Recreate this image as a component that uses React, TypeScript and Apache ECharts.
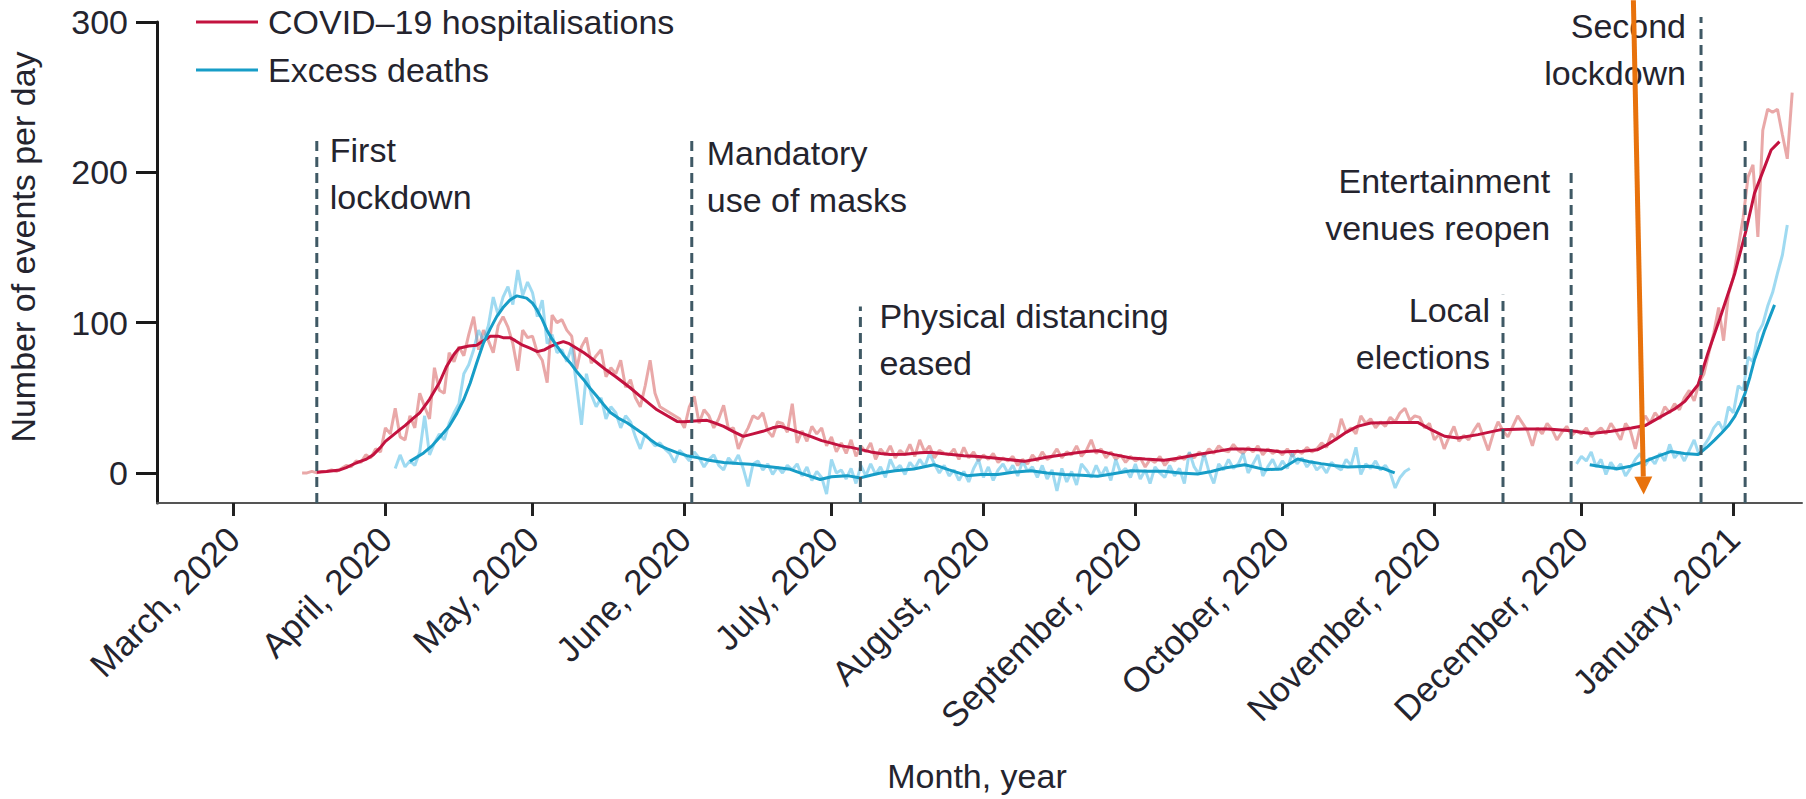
import React, { useEffect, useRef } from "react";
import * as echarts from "echarts";

// ---------- axes ----------
const monthLabels = [
  "March, 2020", "April, 2020", "May, 2020", "June, 2020", "July, 2020", "August, 2020",
  "September, 2020", "October, 2020", "November, 2020", "December, 2020", "January, 2021",
];
// days since 1 March 2020
const monthTickDays = [0, 31, 61, 92, 122, 153, 184, 214, 245, 275, 306];
const yTicks = [0, 100, 200, 300];

// ---------- raw daily series (light lines) ----------
const hospRawStart = 14;
const hospRaw = [
  0, 0, 1, 0, 1, 1, 2, 1, 3, 5,
  4, 8, 7, 12, 10, 16, 14, 30, 26, 43,
  24, 22, 38, 30, 53, 44, 36, 70, 55, 53,
  80, 74, 84, 78, 92, 104, 82, 95, 88, 80,
  98, 104, 97, 86, 68, 95, 90, 91, 80, 75,
  60, 105, 100, 102, 95, 91, 69, 84, 90, 73,
  78, 82, 64, 70, 66, 75, 57, 62, 50, 44,
  58, 75, 53, 44, 42, 40, 38, 36, 30, 44,
  51, 33, 42, 38, 30, 36, 45, 29, 30, 16,
  24, 30, 38, 36, 40, 28, 24, 34, 33, 27,
  46, 20, 28, 21, 31, 26, 30, 18, 24, 14,
  20, 13, 22, 11, 18, 14, 20, 9, 16, 12,
  18, 10, 15, 12, 19, 11, 22, 14, 18, 10,
  15, 13, 12, 16, 9, 17, 10, 14, 8, 12,
  9, 13, 7, 10, 8, 11, 5, 9, 6, 12,
  8, 14, 9, 11, 16, 10, 14, 12, 18, 11,
  15, 22, 13, 16, 10, 14, 9, 12, 7, 11,
  8, 10, 4, 9, 7, 11, 5, 9, 8, 11,
  9, 13, 10, 14, 11, 16, 13, 18, 15, 14,
  19, 15, 13, 17, 14, 18, 12, 16, 13, 15,
  12, 16, 11, 15, 13, 17, 14, 16, 20, 17,
  26, 22, 36, 27, 30, 26, 38, 33, 36, 30,
  34, 31, 37, 34, 40, 43, 35, 38, 37, 30,
  33, 22, 26, 16, 24, 31, 21, 25, 22, 28,
  33, 24, 15, 26, 34, 28, 24, 31, 38, 33,
  28, 18, 30, 26, 33, 29, 22, 27, 31, 25,
  28, 26, 30, 24, 27, 30, 26, 33, 28, 22,
  33, 28, 16, 31, 38, 33, 40, 36, 44, 40,
  46, 42, 50, 55, 48, 60, 66, 80, 93, 110,
  88, 119, 130, 150, 170, 197, 205, 157, 228, 242,
  240, 242, 225, 209, 253,
];

const deathsRawStartA = 33;
const deathsRawA = [
  3, 12, 4, 8, 5, 14, 38, 12, 20, 26,
  22, 33, 40, 46, 66, 72, 82, 95, 88, 98,
  117, 105, 117, 124, 112, 135, 118, 127, 120, 104,
  115, 86, 92, 80, 82, 74, 84, 58, 32, 66,
  52, 44, 50, 36, 44, 40, 30, 38, 34, 24,
  16, 26, 22, 18, 20, 16, 13, 7, 15, 12,
  8, 14, 10, 4, 9, 12, 5, 2, 10, 6,
  12, 3, -9, 6, 8, 2, 6, -1, 4, 0,
  5, 2, 6, -2, 4, -5, 1, -3, -14, 9,
  0, 2, -4, 3, -7, 5, -2, 6, -1, 4,
  -3, 9, 2, 5, -1, 7, 3, 9, 4, 13,
  6, 0, 5, -2, 2, -5, 1, -6, 3, 9,
  -3, 4, -5, 2, 6, 0, 5, -2, 8, 1,
  4, -3, 5, -4, 2, -12, 3, -6, 1, -8,
  6, 2, -3, 5, -2, 4, -5, 9, 0, 3,
  -3, 6, -4, 2, -7, 4, 0, -3, 5, -2,
  3, -7, 14, 4, -1, 13, 1, -7, 6, 2,
  9, 3, 6, 13, 0, 6, 12, -2, 4, 9,
  2, 8, 3, 13, 6, 10, 4, 8, 2, 5,
  0, 7, 4, 2, 9, 5, 17, -1, 6, 3,
  8, 2, 5, 0, -10, -3, 1, 3,
];

const deathsRawStartB = 274;
const deathsRawB = [
  6, 11, 8, 14, 4, 9, -1, 7, 2, 6,
  -2, 3, 9, 13, 5, 10, 6, 13, 8, 19,
  10, 14, 8, 15, 22, 12, 18, 23, 30, 34,
  28, 44, 40, 58, 55, 77, 74, 93, 99, 111,
  120, 133, 145, 165,
];

// ---------- smoothed series (dark lines), [day, value] ----------
const hospSmooth: [number, number][] = [
  [17, 0.4], [19, 1], [21.7, 2], [23, 3.5], [25, 6.6], [27, 9], [28.5, 12], [30, 17], [31, 21],
  [34, 29], [35, 31.5], [36.7, 36.5], [38, 40], [40, 49], [42, 60], [43.5, 71], [45, 79], [46, 83],
  [48, 84.5], [49.6, 85], [51, 88], [52.4, 91], [54, 91], [55, 90], [56.4, 90], [57.5, 88], [59, 85],
  [60.5, 83], [62, 80.7], [63.5, 82], [64.6, 84], [66, 86], [67.3, 87.4], [68.5, 86], [70, 83],
  [71.5, 80], [73, 76.4], [74.5, 72.5], [76, 68.6], [78, 64], [79.6, 60], [81, 56.5], [83, 51],
  [84.7, 46.5], [86.4, 42], [88.5, 38], [90.5, 34.3], [92, 34], [94, 34.6], [96.6, 35], [98, 33.5],
  [100, 31], [102, 27.5], [104, 24.3], [106, 26], [108, 27.7], [110, 30], [111.6, 31], [113.6, 29],
  [115.7, 26.6], [118, 24], [120, 21.5], [121.8, 20], [124, 18], [126, 17], [128, 15.5], [130, 14],
  [132, 13], [134, 12.2], [137, 12.5], [140, 13.5], [142.2, 13.8], [145, 12.8], [149, 11.5],
  [152, 11], [155.2, 10], [158, 9], [161.3, 7.7], [163.5, 9], [166.1, 10.6], [169, 12], [171.6, 13.3],
  [174, 14.2], [176.3, 14.8], [178, 13.5], [179.7, 12.2], [183.1, 10], [186, 9.2], [189.9, 8.4],
  [193, 10], [196.7, 12.2], [200, 14], [203.5, 16], [206, 16], [209, 15.5], [211.6, 15], [213.8, 14],
  [215.7, 14.3], [218, 14.5], [221.2, 15.5], [223, 18.5], [225.3, 23.2], [227, 27], [229.3, 31],
  [232, 33.2], [236.9, 33.6], [241.6, 33.6], [244.3, 28.8], [247.1, 24.4], [249.8, 23.2],
  [253.9, 25.5], [258.6, 28.8], [263.4, 29.2], [268.1, 29.2], [272.9, 28.1], [277, 26.2],
  [281.1, 27.7], [285.2, 29.9], [288, 31.5], [291.3, 37.6], [294, 42.5], [296.1, 47.6],
  [298.8, 58.7], [300.8, 79.7], [303.6, 106.3], [306.3, 132.9], [308.6, 161.6], [310.3, 186],
  [312.4, 203.8], [313.7, 214.8], [315.4, 220.4],
];

const deathsSmoothA: [number, number][] = [
  [36, 7.7], [38.8, 13.3], [40.5, 18], [42.2, 24.3], [44, 31], [45.6, 39.8], [47, 49], [48.3, 59.8],
  [49.6, 73], [51, 86.4], [52.4, 96], [53.7, 104], [55, 110], [56.4, 115], [57.8, 117.8],
  [59.8, 116.3], [61, 113], [61.9, 108.6], [63, 102], [63.9, 95.3], [65, 89], [66, 84.3],
  [67.3, 78.5], [68.7, 73.2], [70, 67.5], [71.4, 62.2], [72.7, 56.5], [74.1, 51.2], [75.5, 45.5],
  [76.9, 40.2], [78.5, 36.5], [80.3, 33.4], [82, 29.5], [83.7, 25.7], [85, 22.3], [86.4, 19],
  [88.5, 16], [90.5, 13.5], [92.5, 11.5], [94.6, 10.2], [97, 8.5], [100, 6.9], [103, 6.2],
  [105.5, 5.8], [108.5, 4.5], [111.6, 3.3], [113.6, 2.4], [116, -0.5], [119.7, -4.4], [122, -2.5],
  [125.2, -1.8], [127.9, -3.3], [130, -1.5], [132, 0], [135, 1.5], [138.8, 2.6], [142.9, 5.5],
  [146, 2], [149.7, -1.8], [152.5, -1], [155.9, -1.1], [159, 0.5], [162.7, 1.5], [166, 0],
  [169.5, -1.1], [173, -1.5], [176.3, -2.2], [179.5, -0.5], [183.1, 1.5], [186.5, 1.2],
  [189.9, 1.1], [193, 0], [196.7, -0.7], [199.5, 1], [202.2, 3.3], [206.3, 5.5], [210.4, 2.2],
  [213.8, 2.6], [217.1, 9.3], [219.5, 7.5], [221.9, 6.2], [224.5, 5], [227.3, 4], [232, 4.4],
  [234.5, 3], [236.9, 0],
];

const deathsSmoothB: [number, number][] = [
  [276.7, 5.5], [279.5, 4], [282.4, 2.8], [285, 4.5], [287.9, 7.7], [290.5, 11], [293.3, 14.3],
  [296, 13], [298.8, 12.2], [300.8, 17.7], [302.2, 22], [303.6, 26.6], [305, 31.5], [306.3, 37.6],
  [307.4, 45], [308.4, 53.1], [309.4, 64], [310.3, 75.3], [311.4, 85.5], [312.4, 95.2],
  [313.4, 103.5], [314.4, 111.8],
];

// ---------- events (dashed lines) ----------
const eventDays = [17, 93.5, 127.9, 259, 272.9, 299.4, 308.4];
const eventLabels = [
  ["First", "lockdown"],
  ["Mandatory", "use of masks"],
  ["Physical distancing", "eased"],
  ["Local", "elections"],
  ["Entertainment", "venues reopen"],
  ["Second", "lockdown"],
  [],
];
// layout of the annotation lines/labels
const eventLineTop = [223.5, 223.7, 110.7, 118.5, 201, 303.4, 221];
const eventLabelDx = [13, 15, 19, -13, -21, -15, 0];
const eventLabelDy = [-10, -7, -14, -8, -13, -14, 0];

// orange arrow annotation (data coords)
const arrowFrom: [number, number] = [285.6, 314.5];
const arrowTo: [number, number] = [287.7, -14.4];

const FONT = "'Liberation Sans', Arial, sans-serif";
const TEXT = "#24242e";
const RED = "#C3123F";
const BLUE = "#179DC7";
const RED_LIGHT = "rgba(212,88,88,0.52)";
const BLUE_LIGHT = "rgba(70,185,228,0.52)";
const DASH = "#3F5965";
const FS = 34;

const toPts = (start: number, vals: number[]) => vals.map((v, i) => [start + i, v]);

export default function App() {
  const ref = useRef<HTMLDivElement>(null);
  useEffect(() => {
    document.body.style.margin = "0";
    const chart = echarts.init(ref.current!, null, { renderer: "svg" });
    const deathsRaw = [
      ...toPts(deathsRawStartA, deathsRawA),
      [257, "-"],
      ...toPts(deathsRawStartB, deathsRawB),
    ];
    const deathsSmooth = [...deathsSmoothA, [257, "-"], ...deathsSmoothB];
    const option: any = {
      animation: false,
      backgroundColor: "#ffffff",
      grid: { left: 157, right: 4, top: 22, bottom: 296, outerBoundsMode: "none", containLabel: false },
      legend: {
        data: ["COVID–19 hospitalisations", "Excess deaths"],
        orient: "vertical",
        left: 196,
        top: 4,
        padding: 0,
        itemWidth: 62,
        itemHeight: 3,
        itemGap: 12,
        icon: "rect",
        selectedMode: false,
        textStyle: { fontSize: FS, color: TEXT, fontFamily: FONT, lineHeight: 36, padding: [0, 0, 0, 5] },
      },
      xAxis: {
        type: "value",
        min: -15.6,
        max: 320,
        axisLine: { show: true, onZero: false, lineStyle: { color: "#555", width: 2 } },
        axisTick: { show: true, customValues: monthTickDays, length: 13, lineStyle: { color: "#222", width: 3 } },
        axisLabel: {
          customValues: monthTickDays,
          rotate: 45,
          margin: 30,
          fontSize: 35,
          color: TEXT,
          fontFamily: FONT,
          formatter: (v: number) => {
            const i = monthTickDays.indexOf(Math.round(v));
            return i >= 0 ? monthLabels[i] : "";
          },
        },
        splitLine: { show: false },
      },
      yAxis: {
        type: "value",
        min: -20,
        max: 300,
        axisLine: { show: true, onZero: false, lineStyle: { color: "#1a1a1a", width: 3 } },
        axisTick: { show: true, customValues: yTicks, length: 21, lineStyle: { color: "#1a1a1a", width: 3 } },
        axisLabel: { customValues: yTicks, margin: 29, fontSize: FS, color: TEXT, fontFamily: FONT },
        splitLine: { show: false },
      },
      series: [
        {
          name: "hospRaw", type: "line", data: toPts(hospRawStart, hospRaw), showSymbol: false,
          lineStyle: { color: RED_LIGHT, width: 3 }, itemStyle: { color: RED_LIGHT }, z: 1, silent: true,
        },
        {
          name: "deathsRaw", type: "line", data: deathsRaw, showSymbol: false, connectNulls: false,
          lineStyle: { color: BLUE_LIGHT, width: 3 }, itemStyle: { color: BLUE_LIGHT }, z: 1, silent: true,
        },
        {
          name: "COVID–19 hospitalisations", type: "line", data: hospSmooth, showSymbol: false,
          lineStyle: { color: RED, width: 3 }, itemStyle: { color: RED }, z: 3, silent: true,
        },
        {
          name: "Excess deaths", type: "line", data: deathsSmooth, showSymbol: false, connectNulls: false,
          lineStyle: { color: BLUE, width: 3 }, itemStyle: { color: BLUE }, z: 3, silent: true,
        },
      ],
    };
    chart.setOption(option);

    const px = (d: number, v: number) => chart.convertToPixel({ gridIndex: 0 }, [d, v]) as number[];
    const graphics: any[] = [];
    eventDays.forEach((day, i) => {
      const [x, yb] = px(day, -20);
      const [, yt] = px(day, eventLineTop[i]);
      graphics.push({
        type: "line", z: 50, silent: true,
        shape: { x1: x, y1: yb, x2: x, y2: yt },
        style: { stroke: DASH, lineWidth: 3, lineDash: [10, 6] },
      });
      if (eventLabels[i].length) {
        const right = eventLabelDx[i] > 0;
        graphics.push({
          type: "text", z: 50, silent: true,
          x: x + eventLabelDx[i], y: yt + eventLabelDy[i],
          style: {
            text: eventLabels[i].join("\n"), fontSize: FS, fontFamily: FONT, fill: TEXT,
            align: right ? "left" : "right", verticalAlign: "top", lineHeight: 47,
          },
        });
      }
    });
    // axis names
    graphics.push({
      type: "text", silent: true, x: 23, y: 247, rotation: Math.PI / 2,
      style: { text: "Number of events per day", fontSize: FS, fontFamily: FONT, fill: TEXT, align: "center", verticalAlign: "middle" },
    });
    graphics.push({
      type: "text", silent: true, x: 977, y: 776,
      style: { text: "Month, year", fontSize: FS, fontFamily: FONT, fill: TEXT, align: "center", verticalAlign: "middle" },
    });
    // arrow
    const [ax1, ay1] = px(arrowFrom[0], arrowFrom[1]);
    const [ax2, ay2] = px(arrowTo[0], arrowTo[1]);
    const ang = Math.atan2(ay2 - ay1, ax2 - ax1);
    const hl = 18, hw = 9;
    const bx = ax2 - hl * Math.cos(ang), by = ay2 - hl * Math.sin(ang);
    const nx = -Math.sin(ang), ny = Math.cos(ang);
    graphics.push({
      type: "line", z: 60, silent: true,
      shape: { x1: ax1, y1: ay1, x2: bx, y2: by },
      style: { stroke: "#E8720C", lineWidth: 5 },
    });
    graphics.push({
      type: "polygon", z: 60, silent: true,
      shape: { points: [[ax2, ay2], [bx + hw * nx, by + hw * ny], [bx - hw * nx, by - hw * ny]] },
      style: { fill: "#E8720C" },
    });
    chart.setOption({ graphic: graphics });
    return () => chart.dispose();
  }, []);
  return <div ref={ref} style={{ width: 1806, height: 799 }} />;
}
